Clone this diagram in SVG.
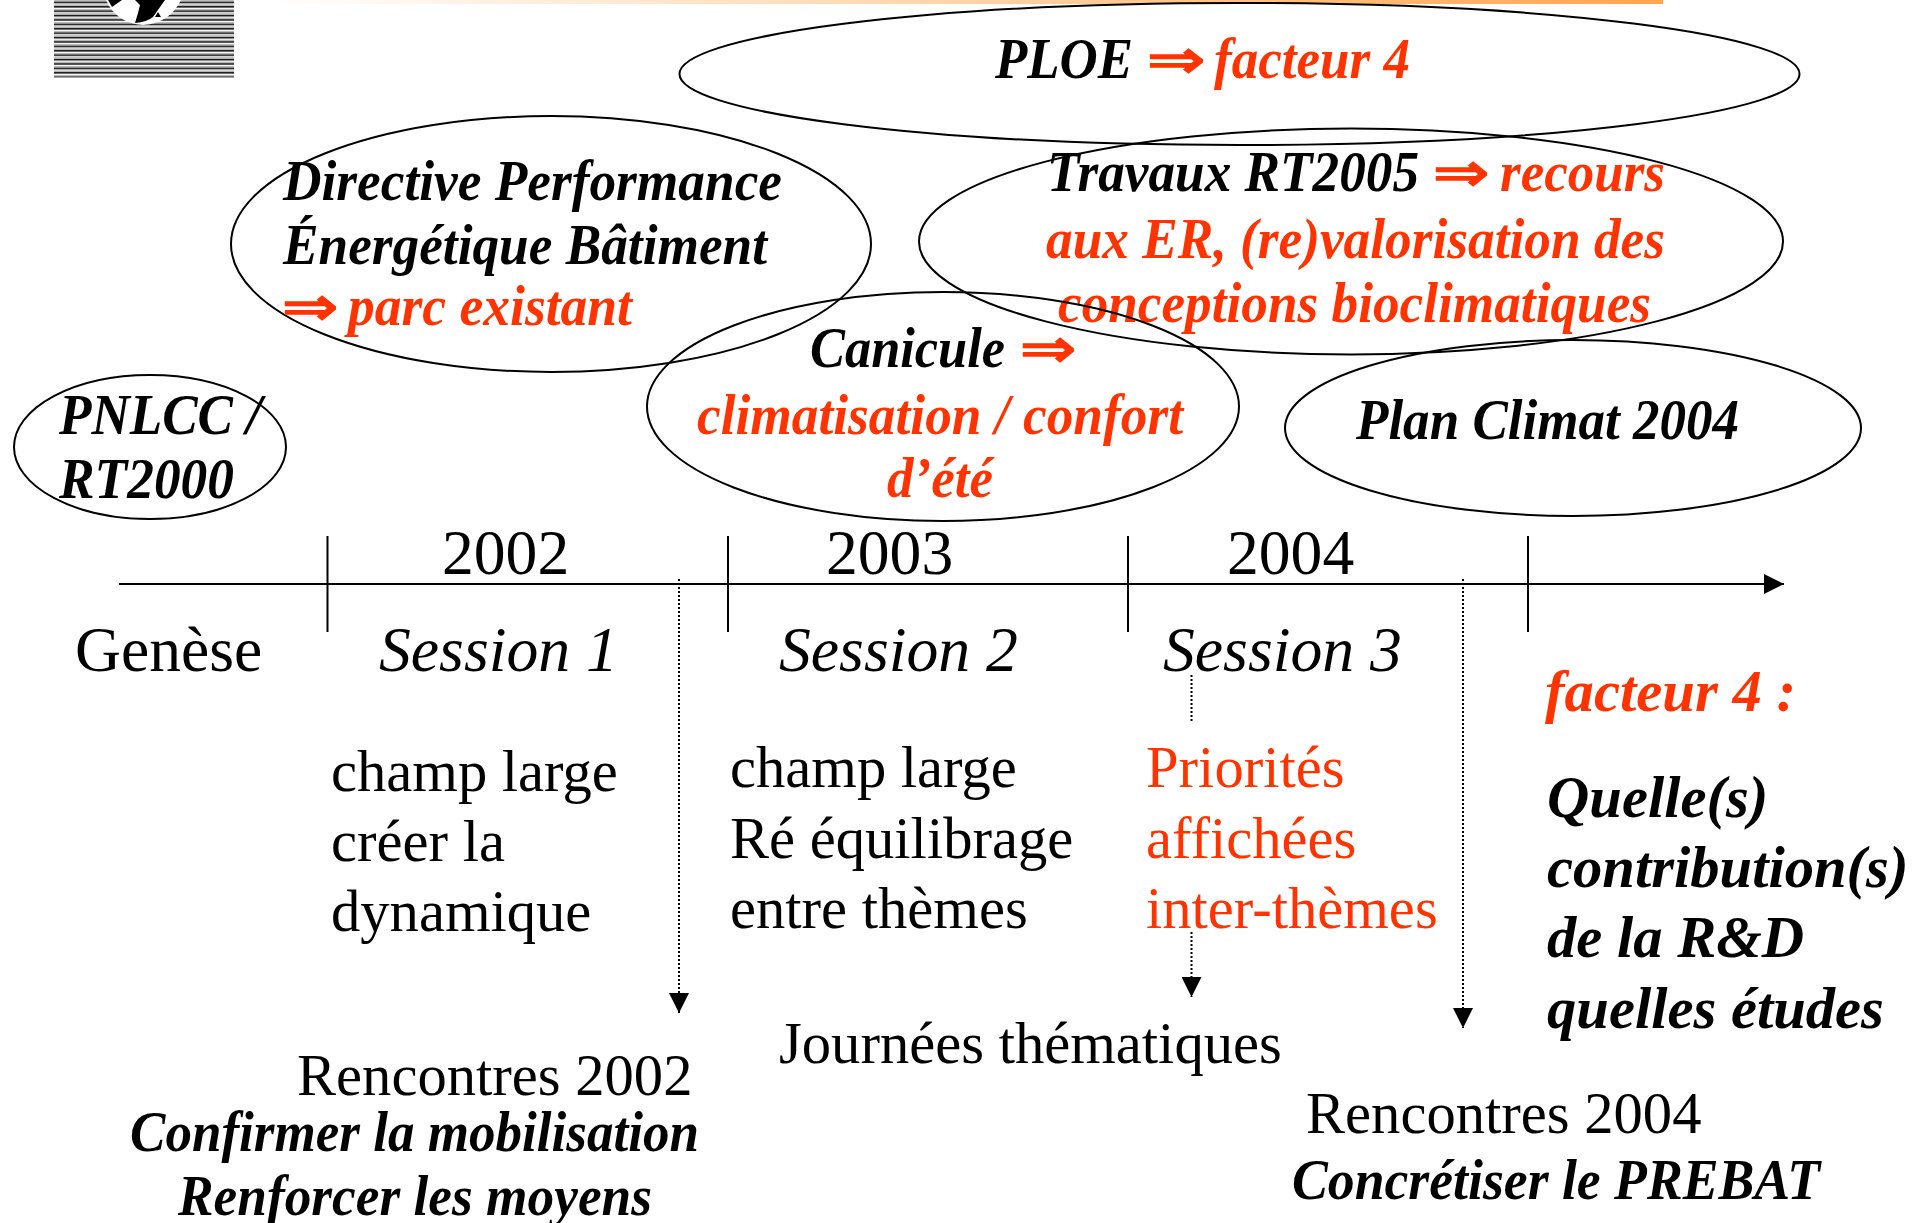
<svg xmlns="http://www.w3.org/2000/svg" width="1922" height="1223" viewBox="0 0 1922 1223">
<style>
text{font-family:"Liberation Serif","Times New Roman",serif;fill:#000}
.n{font-size:58.6px}
.y{font-size:63.6px}
.s{font-size:63.7px;font-style:italic}
.b{font-size:56px;font-style:italic;font-weight:bold}
.q{font-size:58.6px;font-style:italic;font-weight:bold}
.a{font-size:54px;font-weight:bold}
.r{fill:#ff3300}
.e{fill:none;stroke:#000;stroke-width:2}
.l{stroke:#000;stroke-width:2;fill:none}
.d{stroke:#000;stroke-width:2;stroke-dasharray:2 2;fill:none}
</style>
<defs>
<linearGradient id="bar"><stop offset="0" stop-color="#fff"/><stop offset="1" stop-color="#ffa64d"/></linearGradient>
<pattern id="st" width="4" height="4.4" patternUnits="userSpaceOnUse"><rect width="4" height="4.4" fill="#fff"/><rect width="4" height="1.4" y="0" fill="#bbb"/><rect width="4" height="1.6" y="1.6" fill="#111"/></pattern>
<marker id="ah" markerWidth="20" markerHeight="20" refX="20" refY="10" markerUnits="userSpaceOnUse" orient="auto"><path d="M0 0L20 10L0 20Z" fill="#000"/></marker>
</defs>
<g id="header">
<rect x="270" y="0" width="1393" height="4" fill="url(#bar)"/>
<rect x="54" y="0" width="180" height="77.5" fill="url(#st)"/>
<path d="M106 0Q116 23 143 25Q170 23 181 0Z" fill="#fff"/>
<path d="M108 0H122L112 7ZM135 0H165L153 17Q147 22 135 23L138 13L140 5Z" fill="#000"/>
<path d="M158 12L161 17L155 17Z" fill="#000"/>
</g>
<g id="connectors">
<line class="l" x1="119" y1="584" x2="1784" y2="584" marker-end="url(#ah)"/>
<line class="l" x1="327.5" y1="536" x2="327.5" y2="632"/>
<line class="l" x1="728" y1="536" x2="728" y2="632"/>
<line class="l" x1="1128" y1="536" x2="1128" y2="632"/>
<line class="l" x1="1528" y1="536" x2="1528" y2="632"/>
<line class="d" x1="679" y1="579" x2="679" y2="1013" marker-end="url(#ah)"/>
<line class="d" x1="1463" y1="579" x2="1463" y2="1028" marker-end="url(#ah)"/>
<line class="d" x1="1191.5" y1="675" x2="1191.5" y2="723"/>
<line class="d" x1="1191.5" y1="932" x2="1191.5" y2="997" marker-end="url(#ah)"/>
</g>
<g id="ploe"><ellipse class="e" cx="1239.5" cy="74" rx="560" ry="71"/>
<text class="b" x="995" y="78" textLength="138" lengthAdjust="spacingAndGlyphs">PLOE</text>
<text class="a r" x="1147" y="78" textLength="58" lengthAdjust="spacingAndGlyphs">⇒</text>
<text class="b r" x="1214" y="78" textLength="196" lengthAdjust="spacingAndGlyphs">facteur 4</text></g>
<g id="directive"><ellipse class="e" cx="551" cy="244" rx="320" ry="128"/>
<text class="b" x="283" y="200" textLength="499" lengthAdjust="spacingAndGlyphs">Directive Performance</text>
<text class="b" x="283" y="264" textLength="484" lengthAdjust="spacingAndGlyphs">Énergétique Bâtiment</text>
<text class="a r" x="282" y="325" textLength="56" lengthAdjust="spacingAndGlyphs">⇒</text>
<text class="b r" x="348" y="325" textLength="284" lengthAdjust="spacingAndGlyphs">parc existant</text></g>
<g id="travaux"><ellipse class="e" cx="1351" cy="241.5" rx="432" ry="113"/>
<text class="b" x="1047" y="191" textLength="372" lengthAdjust="spacingAndGlyphs">Travaux RT2005</text>
<text class="a r" x="1433" y="191" textLength="56" lengthAdjust="spacingAndGlyphs">⇒</text>
<text class="b r" x="1500" y="191" textLength="165" lengthAdjust="spacingAndGlyphs">recours</text>
<text class="b r" x="1046" y="258" textLength="619" lengthAdjust="spacingAndGlyphs">aux ER, (re)valorisation des</text>
<text class="b r" x="1058" y="322" textLength="593" lengthAdjust="spacingAndGlyphs">conceptions bioclimatiques</text></g>
<g id="canicule"><ellipse class="e" cx="943" cy="406.5" rx="296" ry="114.5"/>
<text class="b" x="810" y="367" textLength="195" lengthAdjust="spacingAndGlyphs">Canicule</text>
<text class="a r" x="1020" y="367" textLength="56" lengthAdjust="spacingAndGlyphs">⇒</text>
<text class="b r" x="697" y="434" textLength="486" lengthAdjust="spacingAndGlyphs">climatisation / confort</text>
<text class="b r" x="887" y="497" textLength="106" lengthAdjust="spacingAndGlyphs">d’été</text></g>
<g id="plan-climat"><ellipse class="e" cx="1573" cy="428" rx="288" ry="88"/>
<text class="b" x="1356" y="439" textLength="383" lengthAdjust="spacingAndGlyphs">Plan Climat 2004</text></g>
<g id="pnlcc"><ellipse class="e" cx="150" cy="447" rx="136" ry="72"/>
<text class="b" x="59" y="434" textLength="174" lengthAdjust="spacingAndGlyphs">PNLCC</text>
<text class="b" x="246" y="434">/</text>
<text class="b" x="59" y="498" textLength="175" lengthAdjust="spacingAndGlyphs">RT2000</text></g>
<g id="timeline-labels">
<text class="y" x="442" y="574">2002</text><text class="y" x="826" y="574">2003</text><text class="y" x="1227" y="574">2004</text>
<text class="y" x="75" y="671">Genèse</text>
<text class="s" x="379" y="671">Session 1</text><text class="s" x="779" y="671">Session 2</text><text class="s" x="1163" y="671">Session 3</text>
</g>
<g id="session1"><text class="n" x="331" y="791">champ large</text><text class="n" x="331" y="861">créer la</text><text class="n" x="331" y="931">dynamique</text></g>
<g id="session2"><text class="n" x="730" y="787">champ large</text><text class="n" x="730" y="858">Ré équilibrage</text><text class="n" x="730" y="928">entre thèmes</text></g>
<g id="session3"><text class="n r" x="1146" y="787">Priorités</text><text class="n r" x="1146" y="858">affichées</text><text class="n r" x="1146" y="928">inter-thèmes</text></g>
<g id="facteur4"><text class="q r" x="1545" y="711" textLength="251" lengthAdjust="spacingAndGlyphs">facteur 4 :</text>
<text class="q" x="1547" y="817">Quelle(s)</text><text class="q" x="1547" y="887">contribution(s)</text><text class="q" x="1547" y="957">de la R&amp;D</text><text class="q" x="1547" y="1028">quelles études</text></g>
<g id="rencontres2002"><text class="n" x="297" y="1095">Rencontres 2002</text>
<text class="b" x="130" y="1151" textLength="569" lengthAdjust="spacingAndGlyphs">Confirmer la mobilisation</text>
<text class="b" x="178" y="1215" textLength="474" lengthAdjust="spacingAndGlyphs">Renforcer les moyens</text></g>
<g id="journees"><text class="n" x="779" y="1063">Journées thématiques</text></g>
<g id="rencontres2004"><text class="n" x="1306" y="1133">Rencontres 2004</text>
<text class="b" x="1292" y="1199" textLength="528" lengthAdjust="spacingAndGlyphs">Concrétiser le PREBAT</text></g>
</svg>
